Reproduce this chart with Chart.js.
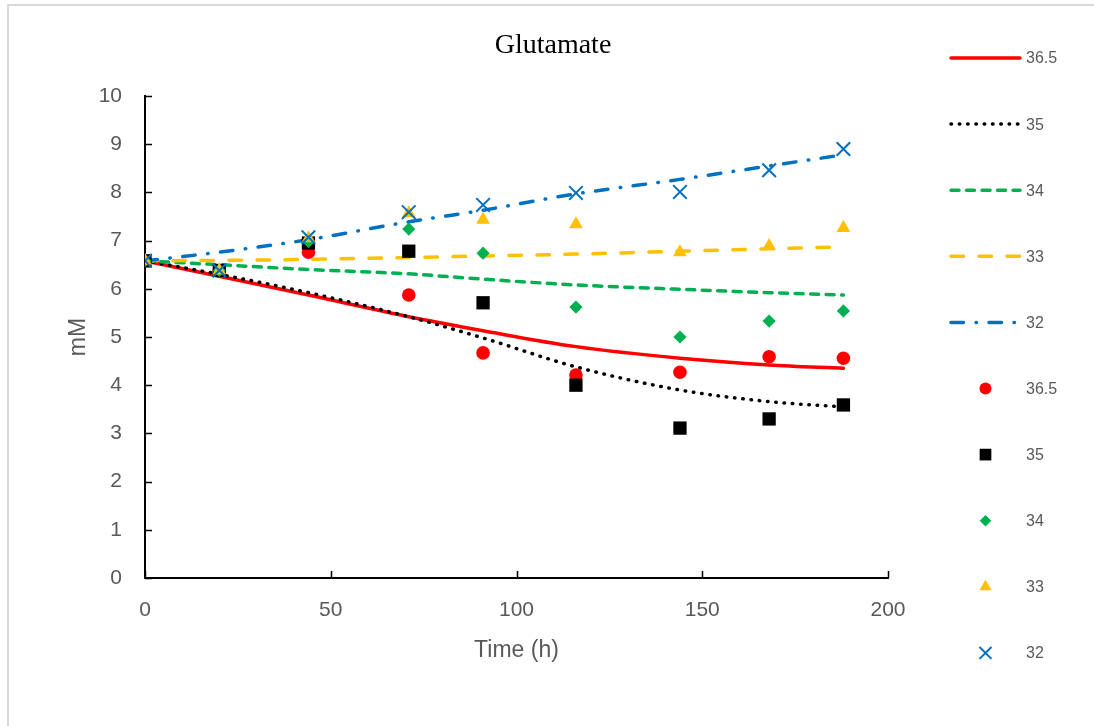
<!DOCTYPE html>
<html>
<head>
<meta charset="utf-8">
<script src="https://cdn.jsdelivr.net/npm/chart.js@4/dist/chart.umd.min.js"></script>
<style>
    html, body { margin: 0; padding: 0; background: #fff; }
    #wrap { width: 1094px; height: 726px; position: relative; }
</style>
</head>
<body>
<div id="wrap"><canvas id="chart"></canvas></div>
<script>
// Sampling times (h)
const times = [0, 20, 44, 71, 91, 116, 144, 168, 188];
const seriesLabels = ['36.5', '35', '34', '33', '32'];

// Measured glutamate (mM)
const meas365 = [6.58, 6.38, 6.76, 5.87, 4.67, 4.21, 4.27, 4.59, 4.56];
const meas35  = [6.58, 6.38, 6.95, 6.78, 5.71, 4.00, 3.11, 3.30, 3.59];
const meas34  = [6.58, 6.38, 6.98, 7.24, 6.74, 5.62, 5.00, 5.33, 5.54];
const meas33  = [6.58, 6.38, 7.05, 7.57, 7.43, 7.34, 6.76, 6.89, 7.26];
const meas32  = [6.58, 6.38, 7.07, 7.59, 7.74, 7.99, 8.01, 8.46, 8.90];

// Trend lines (at the same times)
const fit365 = [6.58, 6.26, 5.87, 5.42, 5.13, 4.80, 4.56, 4.42, 4.35];
const fit35  = [6.58, 6.30, 5.92, 5.42, 4.98, 4.38, 3.90, 3.66, 3.55];
const fit34  = [6.58, 6.50, 6.40, 6.31, 6.20, 6.08, 5.99, 5.92, 5.87];
const fit33  = [6.58, 6.59, 6.61, 6.65, 6.68, 6.72, 6.78, 6.83, 6.87];
const fit32  = [6.58, 6.76, 7.02, 7.39, 7.63, 7.97, 8.27, 8.55, 8.78];

const xTicks = [0, 50, 100, 150, 200];
const yTicks = [0, 1, 2, 3, 4, 5, 6, 7, 8, 9, 10];

const colors = ['#FF0000', '#000000', '#00B050', '#FFC000', '#0070C0'];
const gray = '#595959';

function toPoints(arr) {
    return times.map((t, i) => ({ x: t, y: arr[i] }));
}

function fitLine(label, arr, color, dash, order) {
    return {
        label: label,
        data: toPoints(arr),
        showLine: true,
        borderColor: color,
        backgroundColor: color,
        borderWidth: 3.5,
        borderDash: dash,
        borderCapStyle: 'round',
        cubicInterpolationMode: 'monotone',
        pointRadius: 0,
        pointHoverRadius: 0,
        order: order
    };
}

function markers(label, arr, color, style, radius, order) {
    const isCross = style === 'crossRot';
    return {
        label: label,
        data: toPoints(arr),
        showLine: false,
        pointStyle: style,
        pointRadius: radius,
        pointHoverRadius: radius,
        backgroundColor: color,
        borderColor: color,
        pointBorderWidth: isCross ? 2 : 0,
        order: order
    };
}

const datasets = [
    fitLine(seriesLabels[0], fit365, colors[0], [], 9),
    fitLine(seriesLabels[1], fit35, colors[1], [0.5, 7.8], 8),
    fitLine(seriesLabels[2], fit34, colors[2], [8, 7.5], 7),
    fitLine(seriesLabels[3], fit33, colors[3], [12.5, 15.5], 6),
    fitLine(seriesLabels[4], fit32, colors[4], [12.5, 12.5, 0.5, 12.5], 5),
    markers(seriesLabels[0], meas365, colors[0], 'circle', 6.8, 4),
    markers(seriesLabels[1], meas35, colors[1], 'rect', 9.4, 3),
    markers(seriesLabels[2], meas34, colors[2], 'rectRot', 6.6, 2),
    markers(seriesLabels[3], meas33, colors[3], 'triangle', 8, 1),
    markers(seriesLabels[4], meas32, colors[4], 'crossRot', 9.6, 0)
];

// Title, inward tick marks, frame and the right-hand legend
const decorPlugin = {
    id: 'decor',
    beforeDraw(chart) {
        const ctx = chart.ctx;
        ctx.save();
        ctx.strokeStyle = '#d9d9d9';
        ctx.lineWidth = 2;
        ctx.strokeRect(8, 5, 1200, 1000);
        ctx.restore();
    },
    afterDraw(chart) {
        const ctx = chart.ctx;
        const xs = chart.scales.x;
        const ys = chart.scales.y;
        const area = chart.chartArea;
        ctx.save();

        // title
        ctx.fillStyle = '#000';
        ctx.font = '28px "Liberation Serif", "Times New Roman", serif';
        ctx.textAlign = 'center';
        ctx.textBaseline = 'middle';
        ctx.fillText('Glutamate', 553, 46);

        // tick marks pointing into the plot
        ctx.strokeStyle = '#000';
        ctx.lineWidth = 1.5;
        ctx.beginPath();
        yTicks.forEach(v => {
            const py = Math.round(ys.getPixelForValue(v)) + 0.5;
            ctx.moveTo(area.left, py);
            ctx.lineTo(area.left + 7, py);
        });
        xTicks.forEach(v => {
            const px = Math.round(xs.getPixelForValue(v)) + 0.5;
            ctx.moveTo(px, area.bottom);
            ctx.lineTo(px, area.bottom - 7);
        });
        ctx.stroke();

        // legend
        const legendTop = 58;
        const legendStep = 66.1;
        chart.data.datasets.forEach((ds, i) => {
            const y = legendTop + i * legendStep;
            ctx.save();
            if (ds.showLine) {
                ctx.strokeStyle = ds.borderColor;
                ctx.lineWidth = ds.borderWidth;
                ctx.lineCap = ds.borderCapStyle;
                ctx.setLineDash(ds.borderDash);
                ctx.beginPath();
                ctx.moveTo(951, y);
                ctx.lineTo(1020, y);
                ctx.stroke();
            } else {
                ctx.fillStyle = ds.backgroundColor;
                ctx.strokeStyle = ds.borderColor;
                ctx.lineWidth = ds.pointBorderWidth;
                Chart.helpers.drawPoint(ctx, {
                    pointStyle: ds.pointStyle,
                    radius: ds.pointRadius * 0.88,
                    rotation: 0,
                    borderWidth: ds.pointBorderWidth
                }, 985.5, y);
            }
            ctx.restore();
            ctx.fillStyle = gray;
            ctx.font = '16px "Liberation Sans", Arial, sans-serif';
            ctx.textAlign = 'left';
            ctx.textBaseline = 'middle';
            ctx.fillText(ds.label, 1026, y + 1);
        });
        ctx.restore();
    }
};

const ctx = document.getElementById('chart').getContext('2d');
new Chart(ctx, {
    type: 'scatter',
    data: { datasets: datasets },
    plugins: [decorPlugin],
    options: {
        responsive: true,
        maintainAspectRatio: false,
        animation: false,
        layout: { padding: { top: 96, right: 206, bottom: 0, left: 0 } },
        plugins: {
            legend: { display: false },
            title: { display: false },
            tooltip: { enabled: false }
        },
        scales: {
            x: {
                type: 'linear',
                min: 0,
                max: 200,
                afterFit: function(scale) { scale.height = 148; },
                afterBuildTicks: function(scale) { scale.ticks = xTicks.map(v => ({ value: v })); },
                grid: { display: false, drawTicks: false },
                border: { display: true, color: '#000', width: 2 },
                ticks: {
                    color: gray,
                    padding: 20,
                    font: { family: '"Liberation Sans", Arial, sans-serif', size: 21 }
                },
                title: {
                    display: true,
                    text: 'Time (h)',
                    color: gray,
                    font: { family: '"Liberation Sans", Arial, sans-serif', size: 23 },
                    padding: { top: 0, bottom: 62 }
                }
            },
            y: {
                type: 'linear',
                min: 0,
                max: 10,
                afterFit: function(scale) { scale.width = 145; },
                afterBuildTicks: function(scale) { scale.ticks = yTicks.map(v => ({ value: v })); },
                grid: { display: false, drawTicks: false },
                border: { display: true, color: '#000', width: 2 },
                ticks: {
                    color: gray,
                    padding: 23,
                    font: { family: '"Liberation Sans", Arial, sans-serif', size: 21 }
                },
                title: {
                    display: true,
                    text: 'mM',
                    color: gray,
                    font: { family: '"Liberation Sans", Arial, sans-serif', size: 23 },
                    padding: { top: 65, bottom: 0 }
                }
            }
        }
    }
});
</script>
</body>
</html>
